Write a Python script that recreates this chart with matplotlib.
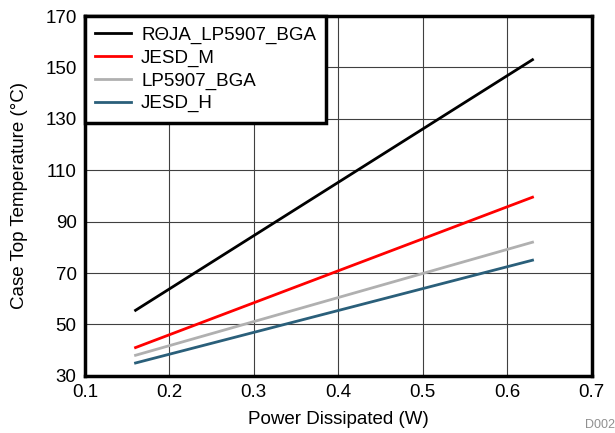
import matplotlib
matplotlib.use('Agg')
import matplotlib.pyplot as plt

plt.rcParams['font.family'] = ['Liberation Sans', 'DejaVu Sans']

power = [0.16, 0.63]
rthja = [55.5, 153.0]
jesd_m = [41.0, 99.5]
lp5907 = [38.0, 82.0]
jesd_h = [35.0, 75.0]

fig = plt.figure(figsize=(6.15, 4.33), dpi=100)
ax = fig.add_axes([0.138, 0.132, 0.824, 0.831])

ax.plot(power, rthja, color='black', lw=2, label='R\u0398JA_LP5907_BGA')
ax.plot(power, jesd_m, color='#ff0000', lw=2, label='JESD_M')
ax.plot(power, lp5907, color='#b0b0b0', lw=2, label='LP5907_BGA')
ax.plot(power, jesd_h, color='#2a5f7a', lw=2, label='JESD_H')

ax.set_xlim(0.1, 0.7)
ax.set_ylim(30, 170)
ax.set_xticks([0.1, 0.2, 0.3, 0.4, 0.5, 0.6, 0.7])
ax.set_xticklabels(['0.1', '0.2', '0.3', '0.4', '0.5', '0.6', '0.7'])
ax.set_yticks(range(30, 171, 20))
ax.grid(True, color='#404040', lw=0.8)
ax.set_axisbelow(True)
ax.tick_params(length=0, labelsize=13.5, pad=6)
for s in ax.spines.values():
    s.set_linewidth(2.5)

ax.set_xlabel('Power Dissipated (W)', fontsize=13.5, labelpad=7)
ax.set_ylabel('Case Top Temperature (\u00b0C)', fontsize=13.5, labelpad=12)

leg = ax.legend(loc='upper left', fontsize=13.5, fancybox=False, framealpha=1,
                edgecolor='black', borderaxespad=0, handlelength=1.9,
                handletextpad=0.55, labelspacing=0.3, borderpad=0.55)
leg.get_frame().set_linewidth(2.5)

fig.text(0.951, 0.012, 'D002', fontsize=9, color='#909090')

fig.savefig('out.png', dpi=100)
